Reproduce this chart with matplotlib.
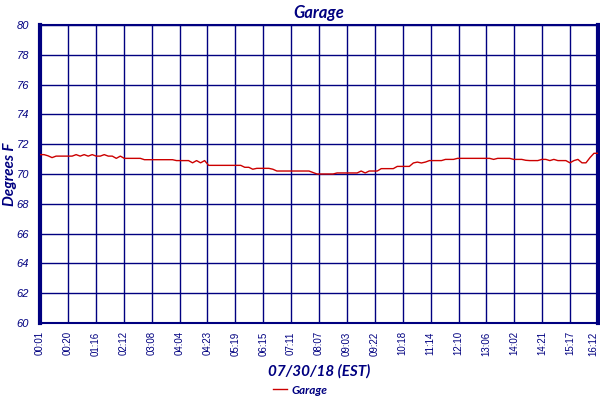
import numpy as np
import matplotlib
matplotlib.use("Agg")
import matplotlib.pyplot as plt

# garage temperature, one reading per ~7 min
temps = [71.3, 71.3, 71.22, 71.1, 71.2, 71.2, 71.2, 71.2, 71.2, 71.3,
         71.2, 71.3, 71.2, 71.3, 71.2, 71.2, 71.3, 71.2, 71.2, 71.05,
         71.2, 71.05, 71.05, 71.05, 71.05, 71.05, 70.96, 70.96, 70.96, 70.96,
         70.96, 70.96, 70.96, 70.96, 70.9, 70.9, 70.9, 70.9, 70.75, 70.9,
         70.75, 70.9, 70.58, 70.58, 70.58, 70.58, 70.58, 70.58, 70.58, 70.58,
         70.58, 70.45, 70.45, 70.32, 70.38, 70.38, 70.38, 70.38, 70.32, 70.2,
         70.2, 70.2, 70.2, 70.2, 70.2, 70.2, 70.2, 70.2, 70.1, 70.0,
         70.0, 70.0, 70.0, 70.0, 70.07, 70.07, 70.07, 70.07, 70.07, 70.07,
         70.2, 70.07, 70.2, 70.2, 70.2, 70.36, 70.36, 70.36, 70.36, 70.51,
         70.51, 70.51, 70.51, 70.74, 70.8, 70.74, 70.8, 70.9, 70.9, 70.9,
         70.9, 70.98, 70.98, 70.98, 71.05, 71.05, 71.05, 71.05, 71.05, 71.05,
         71.05, 71.05, 71.05, 70.98, 71.05, 71.05, 71.05, 71.05, 70.98, 70.98,
         70.98, 70.92, 70.9, 70.9, 70.9, 70.98, 70.98, 70.9, 70.98, 70.9,
         70.9, 70.9, 70.75, 70.9, 70.98, 70.75, 70.75, 71.1, 71.39, 71.39]

time_labels = ["00:01", "00:20", "01:16", "02:12", "03:08", "04:04", "04:23",
               "05:19", "06:15", "07:11", "08:07", "09:03", "09:22", "10:18",
               "11:14", "12:10", "13:06", "14:02", "14:21", "15:17", "16:12"]

y_ticks = [60, 62, 64, 66, 68, 70, 72, 74, 76, 78, 80]

navy = '#000080'
red = '#cc0000'
lab_font = dict(family=['Lato', 'DejaVu Sans'], weight='bold', style='italic', color=navy)

x = np.arange(len(temps))
tick_pos = np.linspace(0, len(temps) - 1, len(time_labels))

fig = plt.figure(figsize=(6, 4), dpi=100)
ax = fig.add_axes([0.0667, 0.1925, 0.93, 0.745])

ax.plot(x, temps, color=red, linewidth=1.0, label="Garage", zorder=3)

ax.set_xlim(0, len(temps) - 1)
ax.set_ylim(60, 80)
ax.set_xticks(tick_pos)
xl = ax.set_xticklabels(time_labels, rotation=90, fontsize=7, color=navy,
                        family='Liberation Sans')
xl[-1].set_horizontalalignment('right')  # keep last one inside the figure
ax.set_yticks(y_ticks)
ax.set_yticklabels([str(v) for v in y_ticks], fontsize=8, color=navy,
                   style='italic', family='Liberation Sans')
ax.tick_params(length=0, pad=6)
ax.tick_params(axis='y', pad=8)

ax.grid(True, color=navy, linewidth=1.0)
for s in ['left', 'right']:
    ax.spines[s].set_linewidth(3)
    ax.spines[s].set_color(navy)
for s in ['top', 'bottom']:
    ax.spines[s].set_linewidth(1.5)
    ax.spines[s].set_color(navy)

ax.set_title("Garage", fontsize=12, pad=5, **lab_font)
ax.set_xlabel("07/30/18 (EST)", fontsize=11, labelpad=6, **lab_font)
ax.set_ylabel("Degrees F", fontsize=11, **lab_font)
ax.yaxis.set_label_coords(-0.041, 0.5)

leg = fig.legend(loc='center', bbox_to_anchor=(0.5, 0.025), frameon=False,
                 handlelength=1.2, handletextpad=0.4,
                 prop=dict(family='Lato', weight='bold', style='italic', size=8.5))
for t in leg.get_texts():
    t.set_color(navy)

plt.savefig('out.png', dpi=100)
